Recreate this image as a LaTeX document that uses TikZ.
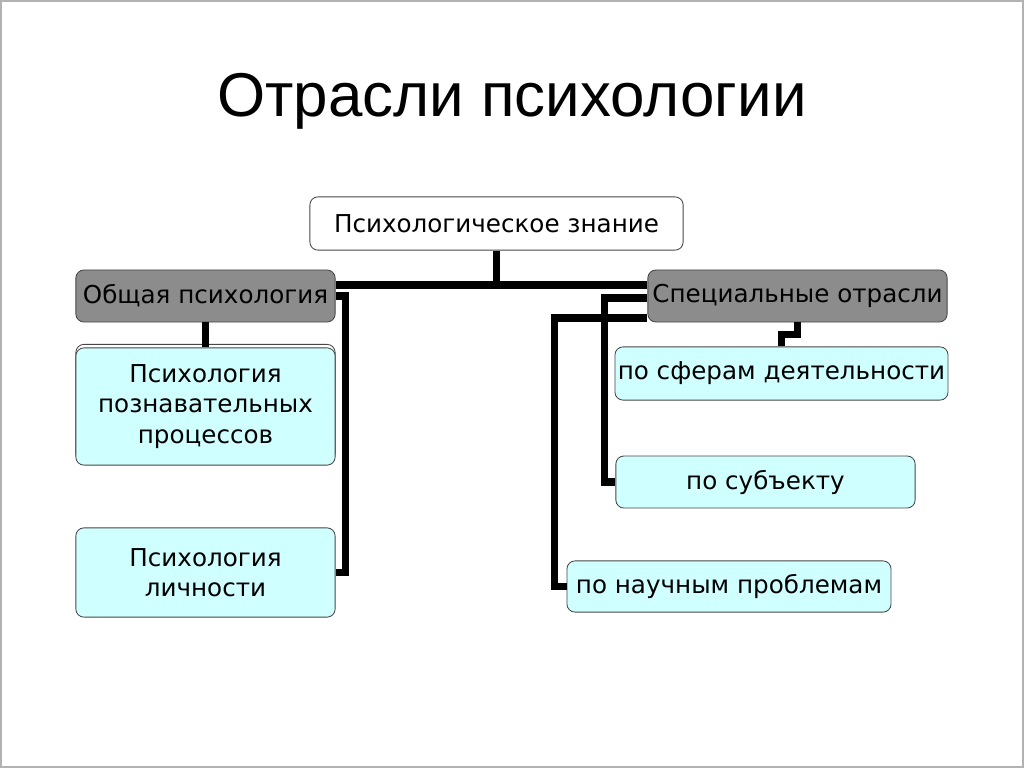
\documentclass[tikz,border=0pt]{standalone}
\usepackage{fontspec}
\setmainfont{DejaVu Sans}
\newfontfamily\titlefont{Liberation Sans}
\usepackage{xcolor}
\usetikzlibrary{calc}
\definecolor{boxgray}{RGB}{140,140,140}
\definecolor{boxcyan}{RGB}{208,255,255}
\definecolor{edgegray}{RGB}{70,70,70}

\begin{document}
\begin{tikzpicture}[x=0.025cm, y=-0.025cm]
\tikzstyle{every node}=[rounded corners=0.2cm, draw=edgegray, line width=0.6pt,
                        inner sep=2pt, align=center,
                        font=\fontsize{17.5}{21.5}\selectfont]
\tikzstyle{head}=[fill=boxgray]
\tikzstyle{leaf}=[fill=boxcyan]
\tikzstyle{link}=[line width=5pt, line join=miter]
\useasboundingbox (0,0) rectangle (1024,768);
\draw[gray!60, line width=1.5pt] (1,1) rectangle (1023,767);
\node[draw=none, font=\titlefont\fontsize{44}{50}\selectfont] (title) at (512,101) {Отрасли психологии};
\node[fill=white, minimum width=9.33cm, minimum height=1.33cm] (znanie) at (496.5,223.5) {Психологическое знание};
\node[head, minimum width=6.48cm, minimum height=1.3cm] (obsh) at (205.5,296) {Общая психология};
\node[head, minimum width=7.48cm, minimum height=1.3cm] (spec) at (797.5,296) {Специальные отрасли};
\node[fill=white, minimum width=6.48cm, minimum height=2.93cm] (poznavback) at (205.5,403) {};
\node[leaf, minimum width=6.48cm, minimum height=2.93cm] (poznav) at (205.5,406.5) {Психология\\познавательных\\процессов};
\node[leaf, minimum width=6.48cm, minimum height=2.23cm] (lichn) at (205.5,572.5) {Психология\\личности};
\node[leaf, minimum width=8.28cm, minimum height=1.33cm] (sfery) at (781.5,373.5) {по сферам деятельности};
\node[leaf, minimum width=7.48cm, minimum height=1.3cm] (subj) at (765.5,482) {по субъекту};
\node[leaf, minimum width=8.1cm, minimum height=1.28cm] (nauch) at (729,586.5) {по научным проблемам};
% connectors
\draw[link] ($(obsh.east)+(0,-11)$) -- ($(spec.west)+(0,-11)$);
\draw[link] (znanie.south) -- ++(0,37);
\draw[link] (obsh) -- (poznav);
\draw[link] (obsh.east) -- ++(10,0) |- (lichn.east);
\draw[link] (spec.south) -- ++(0,12) -| (sfery.north);
\draw[link] ($(spec.west)+(0,2)$) -- ++(-43,0) |- (subj.west);
\draw[link] ($(spec.west)+(0,22)$) -- ++(-93,0) |- (nauch.west);
\end{tikzpicture}
\end{document}
